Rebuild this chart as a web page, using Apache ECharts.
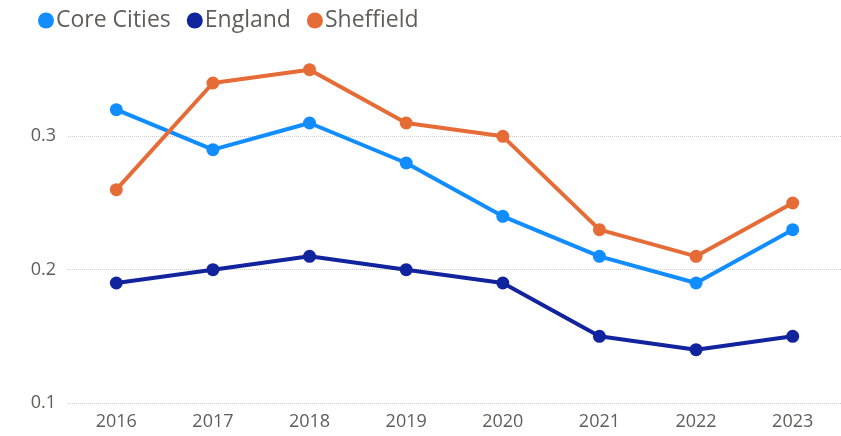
<!DOCTYPE html>
<html>
<head>
<meta charset="utf-8">
<script src="https://cdn.jsdelivr.net/npm/echarts@6/dist/echarts.min.js"></script>
<style>
  html, body { margin: 0; padding: 0; background: #fff; }
  #chart { width: 841px; height: 436px; }
</style>
</head>
<body>
<div id="chart"></div>
<script>
// --- Data ---
const years = ['2016', '2017', '2018', '2019', '2020', '2021', '2022', '2023'];
const coreCities = [0.32, 0.29, 0.31, 0.28, 0.24, 0.21, 0.19, 0.23];
const england = [0.19, 0.20, 0.21, 0.20, 0.19, 0.15, 0.14, 0.15];
const sheffield = [0.26, 0.34, 0.35, 0.31, 0.30, 0.23, 0.21, 0.25];

const FONT = '"Open Sans", "Noto Sans", sans-serif';
const TEXT_GREY = '#605E5C';

const chart = echarts.init(document.getElementById('chart'));

const lineSeries = (name, data, color) => ({
  name,
  type: 'line',
  data,
  symbol: 'circle',
  symbolSize: 13,
  lineStyle: { width: 4, color },
  itemStyle: { color },
  emphasis: { disabled: true }
});

const option = {
  animation: false,
  textStyle: { fontFamily: FONT },
  legend: {
    left: 33,
    top: 4,
    icon: 'circle',
    itemWidth: 16,
    itemHeight: 16,
    itemGap: 16,
    textStyle: { fontSize: 23, color: TEXT_GREY, fontFamily: FONT, padding: [0, 0, 0, -3] }
  },
  grid: { left: 68, width: 774, top: 3, bottom: 33 },
  xAxis: {
    type: 'category',
    data: years,
    boundaryGap: true,
    axisLine: { show: false },
    axisTick: { show: false },
    axisLabel: { color: TEXT_GREY, fontSize: 18, margin: 10, fontFamily: FONT }
  },
  yAxis: {
    type: 'value',
    min: 0.1,
    max: 0.4,
    interval: 0.1,
    axisLabel: { color: TEXT_GREY, fontSize: 18, margin: 12, showMaxLabel: false, fontFamily: FONT },
    splitLine: { showMaxLine: false, lineStyle: { type: 'dotted', color: '#cccccc', width: 1 } }
  },
  series: [
    lineSeries('Core Cities', coreCities, '#118DFF'),
    lineSeries('England', england, '#12239E'),
    lineSeries('Sheffield', sheffield, '#E66C37')
  ]
};

chart.setOption(option);
</script>
</body>
</html>
